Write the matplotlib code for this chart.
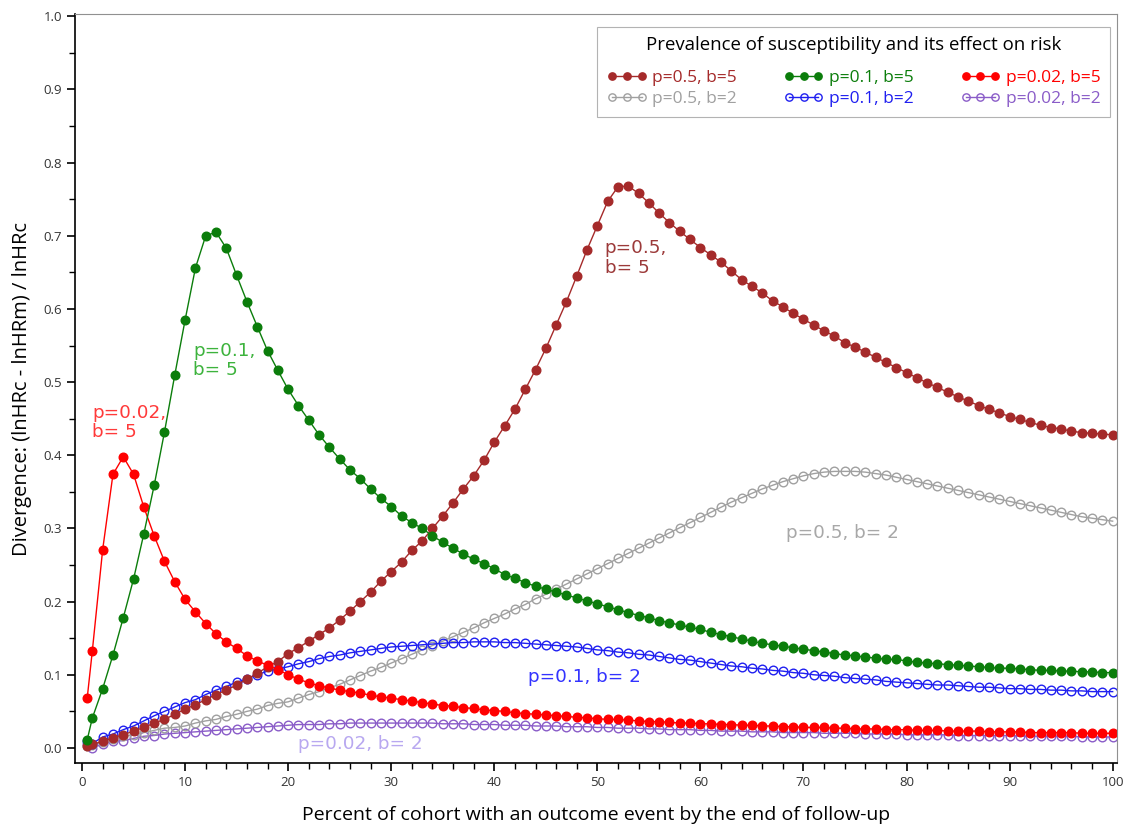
import matplotlib
matplotlib.use("Agg")
import matplotlib.pyplot as plt
from matplotlib.ticker import MultipleLocator

plt.rcParams["font.family"] = ["Open Sans", "DejaVu Sans"]

# percent of cohort with an outcome event
pct = [0.5] + list(range(1, 101))

# p=0.5, b=5
p50_b5 = [0.003, 0.005, 0.009, 0.014, 0.018, 0.023, 0.028, 0.034, 0.039, 0.046,
          0.053, 0.059, 0.066, 0.073, 0.079, 0.086, 0.094, 0.102, 0.111, 0.118,
          0.129, 0.137, 0.146, 0.155, 0.164, 0.175, 0.187, 0.200, 0.213, 0.228,
          0.241, 0.254, 0.270, 0.283, 0.300, 0.317, 0.335, 0.354, 0.372, 0.393,
          0.418, 0.440, 0.463, 0.490, 0.517, 0.546, 0.578, 0.610, 0.645, 0.681,
          0.714, 0.747, 0.767, 0.768, 0.758, 0.745, 0.731, 0.718, 0.706, 0.695,
          0.684, 0.674, 0.664, 0.652, 0.640, 0.631, 0.622, 0.611, 0.603, 0.594,
          0.586, 0.578, 0.570, 0.563, 0.554, 0.548, 0.541, 0.534, 0.527, 0.520,
          0.513, 0.506, 0.499, 0.493, 0.486, 0.480, 0.474, 0.468, 0.463, 0.458,
          0.453, 0.449, 0.445, 0.441, 0.438, 0.436, 0.433, 0.431, 0.430, 0.429,
          0.428]

# p=0.1, b=5
p10_b5 = [0.011, 0.041, 0.081, 0.127, 0.178, 0.231, 0.293, 0.359, 0.432, 0.510,
          0.585, 0.656, 0.700, 0.705, 0.683, 0.646, 0.610, 0.576, 0.543, 0.516,
          0.490, 0.468, 0.448, 0.428, 0.411, 0.395, 0.380, 0.368, 0.354, 0.341,
          0.330, 0.317, 0.308, 0.300, 0.290, 0.281, 0.273, 0.265, 0.258, 0.252,
          0.245, 0.237, 0.232, 0.226, 0.221, 0.217, 0.213, 0.209, 0.205, 0.201,
          0.197, 0.193, 0.189, 0.185, 0.181, 0.178, 0.174, 0.171, 0.168, 0.165,
          0.162, 0.158, 0.155, 0.152, 0.149, 0.146, 0.143, 0.141, 0.139, 0.137,
          0.135, 0.133, 0.131, 0.129, 0.127, 0.126, 0.124, 0.123, 0.121, 0.121,
          0.119, 0.117, 0.116, 0.115, 0.114, 0.113, 0.112, 0.111, 0.110, 0.109,
          0.109, 0.108, 0.107, 0.106, 0.106, 0.105, 0.105, 0.104, 0.104, 0.103,
          0.103]

# p=0.02, b=5
p02_b5 = [0.068, 0.133, 0.271, 0.374, 0.398, 0.374, 0.329, 0.290, 0.255, 0.227,
          0.203, 0.186, 0.170, 0.156, 0.145, 0.136, 0.126, 0.119, 0.113, 0.107,
          0.100, 0.094, 0.089, 0.085, 0.082, 0.079, 0.077, 0.075, 0.072, 0.070,
          0.068, 0.066, 0.064, 0.062, 0.060, 0.058, 0.057, 0.055, 0.054, 0.052,
          0.051, 0.050, 0.048, 0.047, 0.046, 0.045, 0.044, 0.043, 0.042, 0.041,
          0.040, 0.039, 0.039, 0.038, 0.037, 0.036, 0.036, 0.035, 0.034, 0.034,
          0.033, 0.033, 0.032, 0.032, 0.031, 0.031, 0.030, 0.030, 0.029, 0.029,
          0.028, 0.028, 0.028, 0.027, 0.027, 0.026, 0.026, 0.026, 0.025, 0.025,
          0.025, 0.024, 0.024, 0.024, 0.023, 0.023, 0.023, 0.023, 0.022, 0.022,
          0.022, 0.022, 0.021, 0.021, 0.021, 0.021, 0.021, 0.020, 0.020, 0.020,
          0.020]

# p=0.5, b=2
p50_b2 = [0.002, 0.004, 0.008, 0.012, 0.016, 0.018, 0.021, 0.024, 0.027, 0.028,
          0.030, 0.034, 0.037, 0.039, 0.043, 0.046, 0.050, 0.053, 0.058, 0.061,
          0.063, 0.068, 0.073, 0.077, 0.082, 0.087, 0.093, 0.099, 0.105, 0.110,
          0.116, 0.122, 0.128, 0.134, 0.140, 0.146, 0.152, 0.158, 0.164, 0.171,
          0.177, 0.183, 0.190, 0.196, 0.204, 0.210, 0.217, 0.224, 0.231, 0.238,
          0.245, 0.252, 0.259, 0.266, 0.273, 0.280, 0.287, 0.294, 0.301, 0.308,
          0.315, 0.322, 0.329, 0.336, 0.342, 0.348, 0.354, 0.359, 0.364, 0.368,
          0.372, 0.375, 0.377, 0.378, 0.378, 0.378, 0.377, 0.375, 0.373, 0.370,
          0.367, 0.364, 0.361, 0.358, 0.355, 0.352, 0.349, 0.346, 0.343, 0.340,
          0.337, 0.334, 0.331, 0.328, 0.325, 0.322, 0.319, 0.316, 0.314, 0.312,
          0.310]

# p=0.1, b=2
p10_b2 = [0.009, 0.006, 0.015, 0.019, 0.025, 0.030, 0.037, 0.044, 0.050, 0.056,
          0.062, 0.066, 0.073, 0.079, 0.084, 0.090, 0.094, 0.100, 0.105, 0.108,
          0.111, 0.115, 0.118, 0.122, 0.125, 0.127, 0.130, 0.132, 0.134, 0.136,
          0.138, 0.139, 0.140, 0.141, 0.142, 0.143, 0.144, 0.144, 0.145, 0.145,
          0.145, 0.144, 0.144, 0.143, 0.142, 0.141, 0.140, 0.139, 0.138, 0.136,
          0.134, 0.133, 0.131, 0.130, 0.128, 0.127, 0.125, 0.123, 0.121, 0.120,
          0.118, 0.116, 0.114, 0.112, 0.111, 0.109, 0.108, 0.106, 0.105, 0.103,
          0.102, 0.100, 0.099, 0.098, 0.096, 0.095, 0.094, 0.093, 0.091, 0.090,
          0.089, 0.088, 0.087, 0.086, 0.086, 0.085, 0.084, 0.083, 0.083, 0.082,
          0.081, 0.081, 0.080, 0.080, 0.079, 0.079, 0.078, 0.078, 0.077, 0.077,
          0.077]

# p=0.02, b=2
p02_b2 = [0.005, 0.000, 0.005, 0.009, 0.010, 0.013, 0.016, 0.017, 0.019, 0.020,
          0.021, 0.022, 0.023, 0.024, 0.025, 0.026, 0.027, 0.028, 0.029, 0.030,
          0.031, 0.032, 0.032, 0.032, 0.033, 0.033, 0.034, 0.034, 0.034, 0.034,
          0.034, 0.034, 0.034, 0.034, 0.034, 0.033, 0.033, 0.033, 0.032, 0.032,
          0.032, 0.031, 0.031, 0.031, 0.030, 0.030, 0.030, 0.029, 0.029, 0.029,
          0.028, 0.028, 0.027, 0.027, 0.027, 0.026, 0.026, 0.025, 0.025, 0.025,
          0.024, 0.024, 0.023, 0.023, 0.023, 0.022, 0.022, 0.022, 0.021, 0.021,
          0.021, 0.021, 0.020, 0.020, 0.020, 0.020, 0.019, 0.019, 0.019, 0.019,
          0.018, 0.018, 0.018, 0.018, 0.018, 0.017, 0.017, 0.017, 0.017, 0.017,
          0.017, 0.016, 0.016, 0.016, 0.016, 0.016, 0.016, 0.015, 0.015, 0.015,
          0.015]

labels = ["p=0.5, b=5", "p=0.5, b=2", "p=0.1, b=5", "p=0.1, b=2",
          "p=0.02, b=5", "p=0.02, b=2"]

fig = plt.figure(figsize=(11.25, 8.32), dpi=100)
ax = fig.add_axes([0.0667, 0.083, 0.926, 0.900])

brown = "#a52a2a"
green = "#0b7d0b"
red = "#ff0000"
gray = "#a0a0a0"
blue = "#1f1ff0"
purple = "#8a5cc8"

filled = dict(marker="o", markersize=6.2, linewidth=1)
hollow = dict(marker="o", markersize=6.2, linewidth=1, markerfacecolor="none",
              markeredgewidth=1)

# draw order: b=2 first, b=5 on top
h_p02_b2, = ax.plot(pct, p02_b2, color=purple, **hollow)
h_p50_b2, = ax.plot(pct, p50_b2, color=gray, **hollow)
h_p10_b2, = ax.plot(pct, p10_b2, color=blue, **hollow)
h_p50_b5, = ax.plot(pct, p50_b5, color=brown, **filled)
h_p02_b5, = ax.plot(pct, p02_b5, color=red, **filled)
h_p10_b5, = ax.plot(pct, p10_b5, color=green, **filled)

handles = [h_p50_b5, h_p50_b2, h_p10_b5, h_p10_b2, h_p02_b5, h_p02_b2]
leg = ax.legend(handles, labels, ncol=3, loc="upper right",
                bbox_to_anchor=(0.9933, 0.983), borderaxespad=0,
                title="Prevalence of susceptibility and its effect on risk",
                title_fontsize=13.4, fontsize=12.5, numpoints=3,
                handlelength=2.3, handletextpad=0.3, columnspacing=2.7,
                labelspacing=0.3, borderpad=0.55, frameon=True,
                fancybox=False, edgecolor="#a0a0a0", markerscale=0.85)
leg.get_frame().set_linewidth(0.8)
leg._legend_box.sep = 11
for txt, h in zip(leg.get_texts(), handles):
    txt.set_color(h.get_color())

# curve annotations
note = dict(fontsize=13.2, family=["DejaVu Sans"], linespacing=1.1)
ax.text(1.0, 0.47, "p=0.02,\nb= 5", color="#ff3a3a", va="top", ha="left",
        **note)
ax.text(10.8, 0.555, "p=0.1,\nb= 5", color="#3db33d", va="top", ha="left",
        **note)
ax.text(50.7, 0.695, "p=0.5,\nb= 5", color="#9c3a3a", va="top", ha="left",
        **note)
ax.text(68.3, 0.294, "p=0.5, b= 2", color="#a8a8a8", va="center", ha="left",
        **note)
ax.text(43.3, 0.097, "p=0.1, b= 2", color="#3333ff", va="center", ha="left",
        **note)
ax.text(21.0, 0.006, "p=0.02, b= 2", color="#b8a8f0", va="center", ha="left",
        **note)

ax.set_xlim(-0.68, 100.4)
ax.set_ylim(-0.0205, 1.003)
ax.xaxis.set_major_locator(MultipleLocator(10))
ax.xaxis.set_minor_locator(MultipleLocator(2))
ax.yaxis.set_major_locator(MultipleLocator(0.1))
ax.yaxis.set_minor_locator(MultipleLocator(0.05))
ax.yaxis.set_major_formatter(plt.FuncFormatter(lambda v, _: f"{v:.1f}"))

ax.tick_params(axis="both", which="major", length=6, width=1.2,
               labelsize=9.5, labelcolor="#333333", direction="out")
ax.tick_params(axis="both", which="minor", length=4, width=1, direction="out")

for side in ["left", "bottom"]:
    ax.spines[side].set_color("black")
    ax.spines[side].set_linewidth(1.2)
for side in ["top", "right"]:
    ax.spines[side].set_color("#909090")
    ax.spines[side].set_linewidth(0.8)

ax.set_xlabel("Percent of cohort with an outcome event by the end of follow-up",
              fontsize=14, labelpad=12)
ax.set_ylabel("Divergence: (lnHRc - lnHRm) / lnHRc", fontsize=14.5,
              labelpad=8)

fig.savefig("out.png", dpi=100)
